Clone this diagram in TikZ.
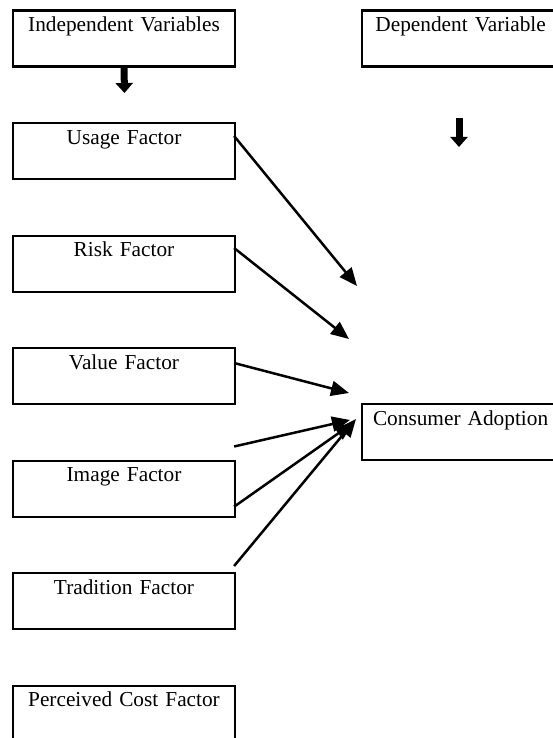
\documentclass[tikz,border=0pt]{standalone}
\usepackage{fontspec}
\setmainfont{Liberation Serif}
\usetikzlibrary{arrows.meta}

\tikzset{
  varbox/.style={draw, line width=2.2pt, inner sep=0pt, anchor=north,
    text height=21pt, text depth=35pt, align=center,
    font=\fontsize{21.3}{25}\selectfont},
  leftbox/.style={varbox, text width=222pt},
  rightbox/.style={varbox, anchor=north west, text width=197pt},
  blockarrow/.style={line width=7pt, -{Triangle[length=10pt,width=17pt]}},
  link/.style={line width=2.5pt, -{Triangle[length=18pt,width=15pt]}}
}

\begin{document}
\begin{tikzpicture}[x=1pt, y=-1pt]
  \useasboundingbox (0,0) rectangle (553,738);
  \clip (0,0) rectangle (553,738);

  % left column: independent variables and the factors
  \node[leftbox] (indep)     at (124,9.5)   {Independent Variables};
  \node[leftbox] (usage)     at (124,122)   {Usage Factor};
  \node[leftbox] (risk)      at (124,234.5) {Risk Factor};
  \node[leftbox] (value)     at (124,347)   {Value Factor};
  \node[leftbox] (image)     at (124,459.5) {Image Factor};
  \node[leftbox] (tradition) at (124,572)   {Tradition Factor};
  \node[leftbox] (cost)      at (124,684.5) {Perceived Cost Factor};

  % right column: dependent variable
  \node[rightbox] (dep)      at (361,9.5)   {Dependent Variable};
  \node[rightbox] (adoption) at (361,403)   {Consumer Adoption};

  % thick downward arrows
  \coordinate (indeptip) at (124.5,93);
  \draw[blockarrow] (indep.south) -- (indeptip);
  \coordinate (deptail) at (459,118);
  \coordinate (deptip)  at (459,147);
  \draw[blockarrow] (deptail) -- (deptip);

  % arrows from the factors towards consumer adoption
  \coordinate (tipusage)  at (357,286);
  \coordinate (tiprisk)   at (349,339);
  \coordinate (tipvalue)  at (349,393);
  \coordinate (tipimgA)   at (350,420);
  \coordinate (tipimgB)   at (353,423);
  \coordinate (tiptrad)   at (356,419);

  \draw[link] ([xshift=-2pt,yshift=-14pt]usage.north east) -- (tipusage);
  \draw[link] ([xshift=-2pt,yshift=-13.5pt]risk.north east) -- (tiprisk);
  \draw[link] ([xshift=-2pt,yshift=-16pt]value.north east) -- (tipvalue);
  \draw[link] ([xshift=-2pt,yshift=13pt]image.north east) -- (tipimgA);
  \draw[link] ([xshift=-2pt,yshift=11pt]image.south east) -- (tipimgB);
  \draw[link] ([xshift=-2pt,yshift=6pt]tradition.north east) -- (tiptrad);
\end{tikzpicture}
\end{document}
